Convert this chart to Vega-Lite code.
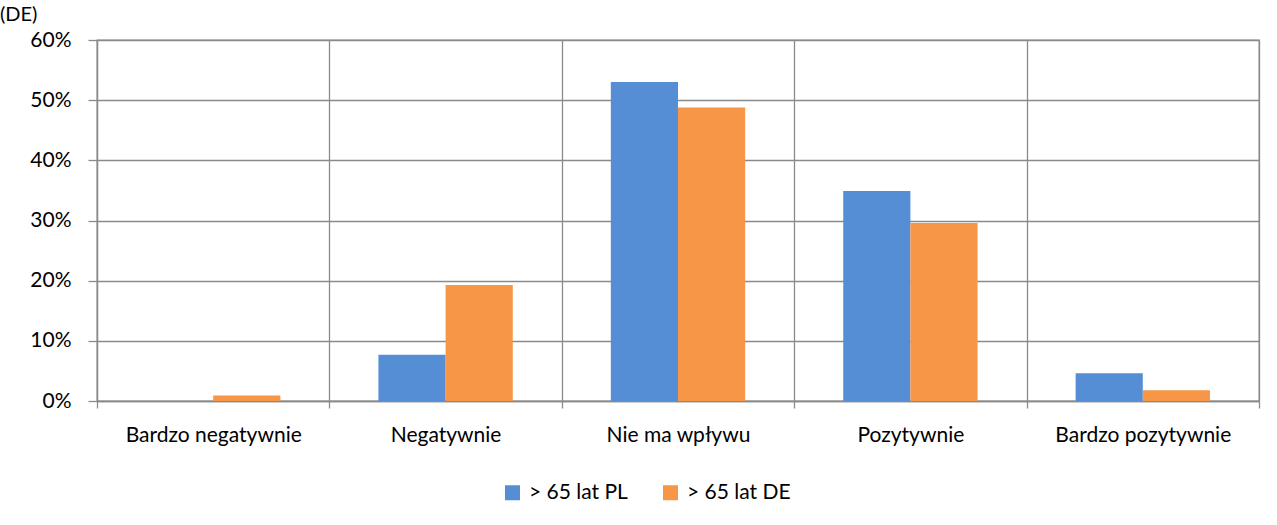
{
  "$schema": "https://vega.github.io/schema/vega-lite/v6.json",
  "width": 1162,
  "height": 361,
  "autosize": {"type": "none"},
  "padding": {"left": 97, "top": 40, "right": 18, "bottom": 124},
  "background": "white",
  "title": {"text": "(DE)", "anchor": "start", "frame": "group", "dx": -97, "offset": 4, "fontSize": 20, "fontWeight": "normal", "font": "Lato", "color": "#000000"},
  "data": {"values": [
    {"cat": "Bardzo negatywnie", "grp": "> 65 lat PL", "v": 0.0},
    {"cat": "Bardzo negatywnie", "grp": "> 65 lat DE", "v": 0.009},
    {"cat": "Negatywnie", "grp": "> 65 lat PL", "v": 0.077},
    {"cat": "Negatywnie", "grp": "> 65 lat DE", "v": 0.193},
    {"cat": "Nie ma wpływu", "grp": "> 65 lat PL", "v": 0.530},
    {"cat": "Nie ma wpływu", "grp": "> 65 lat DE", "v": 0.488},
    {"cat": "Pozytywnie", "grp": "> 65 lat PL", "v": 0.349},
    {"cat": "Pozytywnie", "grp": "> 65 lat DE", "v": 0.296},
    {"cat": "Bardzo pozytywnie", "grp": "> 65 lat PL", "v": 0.046},
    {"cat": "Bardzo pozytywnie", "grp": "> 65 lat DE", "v": 0.018}
  ]},
  "mark": {"type": "bar"},
  "encoding": {
    "x": {"field": "cat", "type": "nominal", "sort": null, "title": null,
      "scale": {"paddingInner": 0, "paddingOuter": 0},
      "axis": {"bandPosition": 0, "grid": true, "gridColor": "#8a8a8a", "gridWidth": 1.3, "gridOpacity": 1,
        "tickColor": "#8a8a8a", "tickSize": 7, "tickWidth": 1.3, "tickBand": "extent",
        "domainColor": "#8a8a8a", "domainWidth": 1.3, "labelAngle": 0, "labelPadding": 16,
        "labelFontSize": 21, "labelFont": "Lato", "labelColor": "#000000"}},
    "xOffset": {"field": "grp", "type": "nominal", "sort": ["> 65 lat PL", "> 65 lat DE"],
      "scale": {"paddingInner": 0, "paddingOuter": 0.73}},
    "y": {"field": "v", "type": "quantitative", "title": null,
      "scale": {"domain": [0, 0.6], "nice": false},
      "axis": {"values": [0, 0.1, 0.2, 0.3, 0.4, 0.5, 0.6], "format": ".0%", "grid": true,
        "gridColor": "#8a8a8a", "gridWidth": 1.3, "gridOpacity": 1,
        "tickColor": "#8a8a8a", "tickSize": 9, "tickWidth": 1.3,
        "domainColor": "#8a8a8a", "domainWidth": 1.3, "labelPadding": 17,
        "labelFontSize": 21, "labelFont": "Lato", "labelColor": "#000000"}},
    "color": {"field": "grp", "type": "nominal", "sort": ["> 65 lat PL", "> 65 lat DE"],
      "scale": {"domain": ["> 65 lat PL", "> 65 lat DE"], "range": ["#558ED5", "#F79646"]},
      "legend": {"title": null, "orient": "none", "legendX": 405, "legendY": 442, "direction": "horizontal",
        "symbolType": "square", "symbolSize": 225, "symbolStrokeWidth": 0, "labelFontSize": 21,
        "labelFont": "Lato", "labelColor": "#000000", "columnPadding": 32, "labelOffset": 6}}
  },
  "config": {"view": {"stroke": "#8a8a8a", "strokeWidth": 1.3}}
}
